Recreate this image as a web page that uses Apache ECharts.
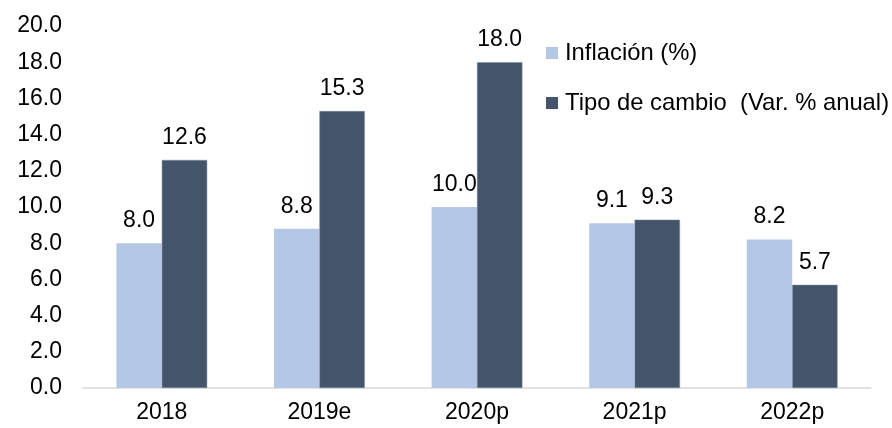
<!DOCTYPE html>
<html><head><meta charset="utf-8">
<script src="https://cdn.jsdelivr.net/npm/echarts@6/dist/echarts.min.js"></script>
<style>html,body{margin:0;padding:0;background:#fff}#c{width:892px;height:428px}</style>
</head><body><div id="c"></div>
<script>
const categories = ['2018', '2019e', '2020p', '2021p', '2022p'];
const inflacion = [8.0, 8.8, 10.0, 9.1, 8.2];
const tipoCambio = [12.6, 15.3, 18.0, 9.3, 5.7];
const seriesNames = ['Inflación (%)', 'Tipo de cambio  (Var. % anual)'];

const font = 'Liberation Sans, Arial, sans-serif';
const fs = 23;
const chart = echarts.init(document.getElementById('c'), null, {renderer: 'canvas'});
const lbl = {show: true, position: 'top', distance: 11, color: '#000', fontSize: fs, fontFamily: font,
  formatter: p => p.value.toFixed(1)};
chart.setOption({
  animation: false,
  textStyle: {fontFamily: font},
  grid: {left: 83, right: 21, top: 26, bottom: 40, containLabel: false},
  legend: {
    orient: 'vertical', left: 541, top: 36, itemWidth: 12, itemHeight: 12, itemGap: 26,
    icon: 'rect',
    itemStyle: {borderWidth: 0},
    textStyle: {fontSize: 23.8, color: '#000', fontFamily: font, padding: [0, 0, 0, 2]},
    data: seriesNames
  },
  xAxis: {
    type: 'category', data: categories,
    axisLine: {lineStyle: {color: '#d9d9d9', width: 1.5}},
    axisTick: {show: false},
    axisLabel: {fontSize: fs, color: '#000', margin: 13, fontFamily: font}
  },
  yAxis: {
    type: 'value', min: 0, max: 20, interval: 2,
    splitLine: {show: false}, axisLine: {show: false}, axisTick: {show: false},
    axisLabel: {fontSize: fs, color: '#000', margin: 21, fontFamily: font, formatter: v => v.toFixed(1)}
  },
  series: [
    {name: seriesNames[0], type: 'bar', data: inflacion, barWidth: '28.8%', barGap: '0%',
     itemStyle: {color: '#B4C7E7'}, label: lbl},
    {name: seriesNames[1], type: 'bar', data: tipoCambio, barWidth: '28.8%', barGap: '0%',
     itemStyle: {color: '#44546A', borderColor: '#7f8ea3', borderWidth: 0.5}, label: lbl}
  ]
});
</script></body></html>
